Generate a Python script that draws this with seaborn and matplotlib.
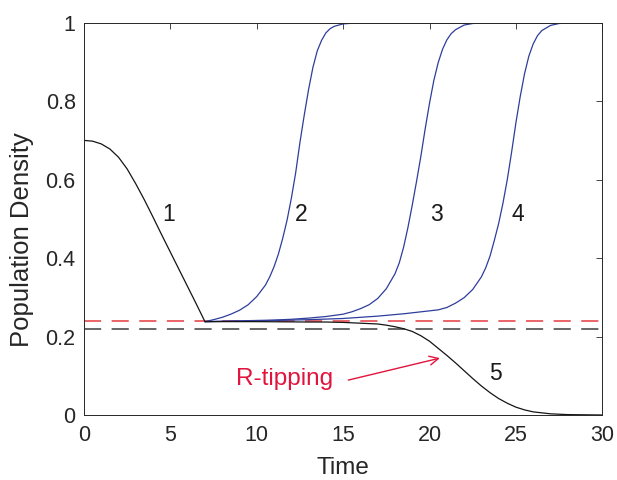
import matplotlib
matplotlib.use('Agg')
import matplotlib.pyplot as plt
import pandas as pd
import seaborn as sns

# ---------------- data ----------------
t1 = [0.0, 0.5, 1.0, 1.5, 2.0, 2.5, 3.0, 3.5, 4.0, 4.5, 5.0, 5.5, 6.0, 6.5, 7.0]
y1 = [0.700, 0.698, 0.691, 0.678, 0.657, 0.627, 0.589, 0.548, 0.504, 0.459,
      0.415, 0.371, 0.327, 0.283, 0.238]

t2 = [7.0, 7.5, 8.0, 8.5, 9.0, 9.5, 10.0, 10.5, 10.75, 11.0, 11.25, 11.5, 11.75,
      12.0, 12.25, 12.5, 12.75, 13.0, 13.25, 13.5, 13.75, 14.0, 14.25, 14.5, 15.0,
      16.0, 30.0]
y2 = [0.238, 0.243, 0.249, 0.257, 0.267, 0.281, 0.302, 0.331, 0.352, 0.378, 0.410,
      0.450, 0.496, 0.552, 0.617, 0.695, 0.765, 0.830, 0.886, 0.928, 0.955, 0.974,
      0.985, 0.991, 0.997, 1.0, 1.0]

t3 = [7.0, 9.0, 11.0, 12.0, 13.0, 14.0, 15.0, 15.5, 16.0, 16.5, 17.0, 17.5, 18.0,
      18.25, 18.5, 18.75, 19.0, 19.25, 19.5, 19.75, 20.0, 20.25, 20.5, 20.75, 21.0,
      21.25, 21.5, 22.0, 22.5, 23.5, 30.0]
y3 = [0.238, 0.240, 0.242, 0.244, 0.247, 0.251, 0.257, 0.263, 0.271, 0.281, 0.297,
      0.322, 0.360, 0.388, 0.428, 0.478, 0.535, 0.596, 0.660, 0.730, 0.795, 0.853,
      0.898, 0.932, 0.956, 0.972, 0.982, 0.994, 0.998, 1.0, 1.0]

t4 = [7.0, 10.0, 13.0, 15.0, 17.0, 18.5, 19.5, 20.5, 21.0, 21.5, 22.0, 22.5, 23.0,
      23.25, 23.5, 23.75, 24.0, 24.25, 24.5, 24.75, 25.0, 25.25, 25.5, 25.75, 26.0,
      26.25, 26.5, 27.0, 27.5, 28.5, 30.0]
y4 = [0.238, 0.240, 0.243, 0.246, 0.252, 0.258, 0.263, 0.268, 0.274, 0.285, 0.299,
      0.320, 0.352, 0.375, 0.405, 0.445, 0.488, 0.540, 0.600, 0.670, 0.745, 0.812,
      0.870, 0.915, 0.946, 0.967, 0.980, 0.993, 0.998, 1.0, 1.0]

t5 = [7.0, 10.0, 13.0, 14.0, 15.0, 16.0, 17.0, 17.5, 18.0, 18.5, 19.0, 19.5, 20.0,
      20.5, 21.0, 21.5, 22.0, 22.5, 23.0, 23.5, 24.0, 24.5, 25.0, 25.5, 26.0, 27.0,
      28.0, 30.0]
y5 = [0.238, 0.238, 0.237, 0.237, 0.236, 0.234, 0.232, 0.229, 0.225, 0.220, 0.213,
      0.202, 0.188, 0.170, 0.152, 0.133, 0.113, 0.093, 0.074, 0.057, 0.042, 0.030,
      0.020, 0.013, 0.008, 0.003, 0.001, 0.0]

curve_names = ['1', '2', '3', '4', '5']
thresholds = [0.24, 0.22]

label_x = [4.9, 12.6, 20.4, 25.1, 23.8]
label_y = [0.51, 0.51, 0.51, 0.51, 0.107]

x_ticks = [0, 5, 10, 15, 20, 25, 30]
y_ticks = [0, 0.2, 0.4, 0.6, 0.8, 1.0]
y_tick_labels = ['0', '0.2', '0.4', '0.6', '0.8', '1']

annot_text = 'R-tipping'
annot_text_xy = (11.63, 0.092)
annot_tail = (15.3, 0.089)
annot_head = (20.6, 0.145)

# ---------------- build table ----------------
frames = []
for name, t, y in zip(curve_names, [t1, t2, t3, t4, t5], [y1, y2, y3, y4, y5]):
    frames.append(pd.DataFrame({'Time': t, 'Density': y, 'curve': name}))
df = pd.concat(frames, ignore_index=True)

# ---------------- style ----------------
sns.set_style('white')
plt.rcParams['font.family'] = ['Liberation Sans', 'DejaVu Sans']
axis_col = '#262626'
blue = '#2e3d9c'
black = '#151515'
crimson = '#e0143c'

fig = plt.figure(figsize=(6.17, 4.8), dpi=100)
ax = fig.add_axes([84 / 617, 1 - 415 / 480, (602.3 - 84) / 617, (415 - 22.7) / 480])

# threshold dashed lines
ax.axhline(thresholds[0], color='#e8585c', lw=1.3, ls=(0, (9.5, 5.8)), zorder=1)
ax.axhline(thresholds[1], color='#5a5a5a', lw=1.3, ls=(0, (9.5, 5.8)), zorder=1)

palette = {'1': black, '2': blue, '3': blue, '4': blue, '5': black}
sns.lineplot(data=df, x='Time', y='Density', hue='curve', palette=palette,
             estimator=None, sort=False, lw=0.9, legend=False, ax=ax, zorder=2)

# curve labels
for name, lx, ly in zip(curve_names, label_x, label_y):
    ax.text(lx, ly, name, fontsize=16.5, color='#1a1a1a', ha='center', va='center')

# annotation
ax.text(annot_text_xy[0], annot_text_xy[1], annot_text, fontsize=17.5, color=crimson,
        ha='center', va='center')
ax.annotate('', xy=annot_head, xytext=annot_tail,
            arrowprops=dict(arrowstyle='->', color=crimson, lw=1.0,
                            mutation_scale=16, shrinkA=0, shrinkB=0))

# axes
ax.set_xlim(0, 30)
ax.set_ylim(0, 1)
ax.set_xticks(x_ticks)
ax.set_xticklabels([str(v) for v in x_ticks])
ax.set_yticks(y_ticks)
ax.set_yticklabels(y_tick_labels)
ax.tick_params(direction='in', top=True, right=True, length=4.2, width=0.6,
               colors=axis_col, labelsize=15.5)
ax.tick_params(axis='x', pad=7)
ax.tick_params(axis='y', pad=6)
for s in ax.spines.values():
    s.set_visible(True)
    s.set_color(axis_col)
    s.set_linewidth(0.7)
ax.set_xlabel('Time', fontsize=17.5, color=axis_col, va='center')
ax.set_ylabel('Population Density', fontsize=18.5, color=axis_col, va='center')
ax.xaxis.set_label_coords(0.5, (415 - 468) / 392.3)
ax.yaxis.set_label_coords((22 - 84) / 518.3, (415 - 240) / 392.3)

fig.savefig('out.png', dpi=100)
